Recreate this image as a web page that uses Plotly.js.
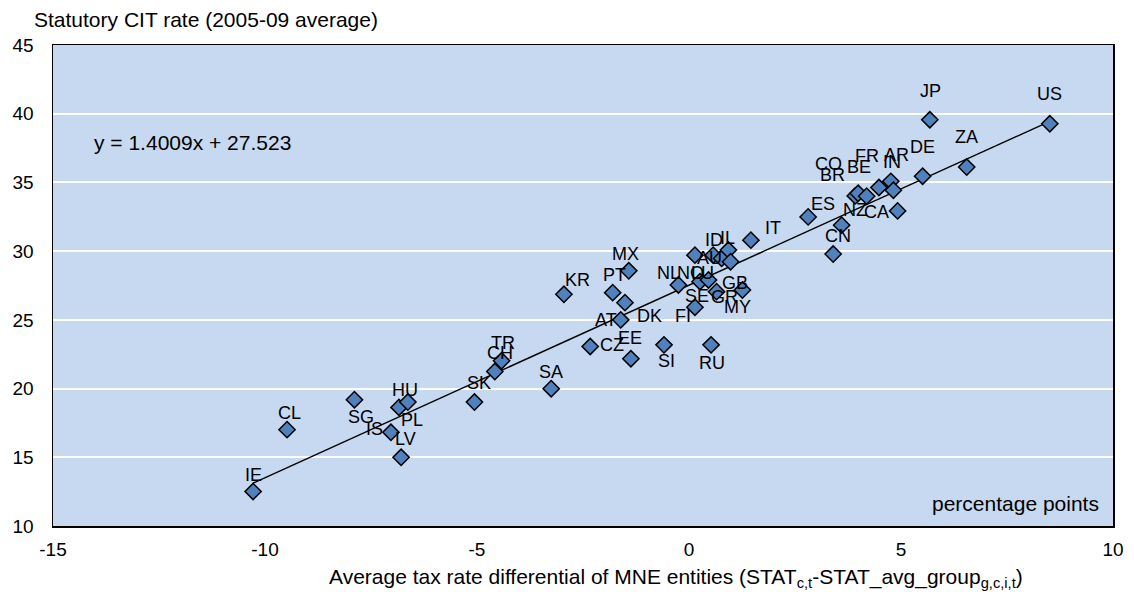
<!DOCTYPE html>
<html>
<head>
<meta charset="utf-8">
<script src="https://cdn.plot.ly/plotly-3.0.1.min.js"></script>
<style>
html,body{margin:0;padding:0;background:#fff;}
#chart{width:1134px;height:592px;}
</style>
</head>
<body>
<div id="chart"></div>
<script>
// ---- data ----
const countries = ["IE","CL","SG","IS","PL","LV","HU","SK","CH","TR","SA","KR","CZ","PT","AT","DK","MX","EE","SI","NL","FI","LU","SE","NO","RU","ID","GR","AU","IL","GB","MY","IT","ES","CN","NZ","CO","BR","BE","FR","AR","IN","CA","DE","JP","ZA","US"];
const taxDiff = [-10.28,-9.48,-7.89,-7.03,-6.84,-6.79,-6.63,-5.06,-4.58,-4.42,-3.25,-2.95,-2.33,-1.80,-1.61,-1.51,-1.42,-1.37,-0.59,-0.25,0.14,0.14,0.26,0.46,0.52,0.57,0.65,0.77,0.93,0.98,1.26,1.46,2.81,3.40,3.60,3.92,3.99,4.19,4.48,4.76,4.82,4.92,5.51,5.68,6.55,8.51];
const citRate = [12.51,17.01,19.19,16.82,18.63,15.00,19.02,19.02,21.24,22.02,19.99,26.86,23.06,26.98,25.00,26.25,28.57,22.17,23.18,27.54,25.92,29.71,27.78,27.90,23.18,29.71,27.05,29.47,30.08,29.23,27.17,30.80,32.49,29.79,31.89,34.02,34.21,34.00,34.63,35.08,34.43,32.93,35.45,39.56,36.12,39.27];
const trendSlope = 1.4009;
const trendIntercept = 27.523;
const xTicks = [-15,-10,-5,0,5,10];
const yTicks = [10,15,20,25,30,35,40,45];

// ---- label placement (pixel offsets of each label from its marker: style) ----
const labelOffset = {
  IE:[0,-17], CL:[2,-17], SG:[7,17], IS:[-16,-3], PL:[13,13], LV:[4,-18], HU:[-3,-12],
  SK:[5,-19], CH:[5,-19], TR:[1,-18], SA:[0,-17], KR:[14,-14], CZ:[22,-2], PT:[2,-18],
  AT:[-15,0], DK:[25,13], MX:[-3,-17], EE:[-1,-21], SI:[3,16], NL:[-10,-12], FI:[-12,9],
  LU:[8,18], SE:[-3,14], NO:[-18,-7], RU:[1,18], ID:[1,-15], GR:[8,5], AU:[-12,0],
  IL:[-1,-12], GB:[4,21], MY:[-5,17], IT:[22,-12], ES:[15,-13], CN:[5,-18], NZ:[13,-15],
  CO:[-27,-32], BR:[-26,-18], BE:[-8,-29], FR:[-12,-32], AR:[6,-26], IN:[-1,-28],
  CA:[-21,1], DE:[0,-29], JP:[1,-29], ZA:[0,-30], US:[0,-30]
};

const FONT = "Liberation Sans, Arial, sans-serif";
const xMin = Math.min(...taxDiff), xMax = Math.max(...taxDiff);

const trend = {
  x:[xMin, xMax],
  y:[trendSlope*xMin + trendIntercept, trendSlope*xMax + trendIntercept],
  mode:'lines', type:'scatter',
  line:{color:'#000', width:1.5},
  hoverinfo:'skip', showlegend:false
};
const pts = {
  x:taxDiff, y:citRate, text:countries,
  mode:'markers', type:'scatter',
  marker:{symbol:'diamond', size:12.5, color:'#4F81BD', line:{color:'#000', width:1.5}},
  showlegend:false
};

const annotations = countries.map((c,i)=>({
  x:taxDiff[i], y:citRate[i], xref:'x', yref:'y', text:c, showarrow:false,
  xshift:labelOffset[c][0], yshift:-labelOffset[c][1],
  font:{family:FONT, size:18, color:'#000'}
}));
annotations.push({
  xref:'paper', yref:'paper', x:-0.02, y:1, yshift:26, xanchor:'left', yanchor:'middle',
  text:'Statutory CIT rate (2005-09 average)', showarrow:false,
  font:{family:FONT, size:21, color:'#000'}
});
annotations.push({
  xref:'paper', yref:'paper', x:0.037, y:0.797, xanchor:'left', yanchor:'middle',
  text:'y = 1.4009x + 27.523', showarrow:false,
  font:{family:FONT, size:21, color:'#000'}
});
annotations.push({
  xref:'paper', yref:'paper', x:0.989, y:0.047, xanchor:'right', yanchor:'middle',
  text:'percentage points', showarrow:false,
  font:{family:FONT, size:21, color:'#000'}
});
annotations.push({
  xref:'paper', yref:'paper', x:0.5877, y:0, yshift:-52, xanchor:'center', yanchor:'middle',
  text:'Average tax rate differential of MNE entities (STAT<sub>c,t</sub>-STAT_avg_group<sub>g,c,i,t</sub>)',
  showarrow:false, font:{family:FONT, size:21, color:'#000'}
});

const layout = {
  width:1134, height:592,
  margin:{l:53, r:21, t:45, b:66},
  paper_bgcolor:'#fff', plot_bgcolor:'#C6D9F1',
  font:{family:FONT, size:19, color:'#000'},
  xaxis:{
    range:[-15,10], tickvals:xTicks, ticktext:xTicks.map(String),
    showgrid:false, zeroline:false, showline:true, mirror:true, linecolor:'#000', linewidth:1.5,
    ticks:'', ticklabelstandoff:6, tickfont:{family:FONT, size:19, color:'#000'}
  },
  yaxis:{
    range:[10,45], tickvals:yTicks, ticktext:yTicks.map(String),
    showgrid:true, gridcolor:'#fff', gridwidth:2, zeroline:false,
    showline:true, mirror:true, linecolor:'#000', linewidth:1.5,
    ticks:'', ticklabelstandoff:14, tickfont:{family:FONT, size:19, color:'#000'}
  },
  annotations:annotations
};

Plotly.newPlot('chart', [trend, pts], layout, {staticPlot:true, displayModeBar:false});
</script>
</body>
</html>
